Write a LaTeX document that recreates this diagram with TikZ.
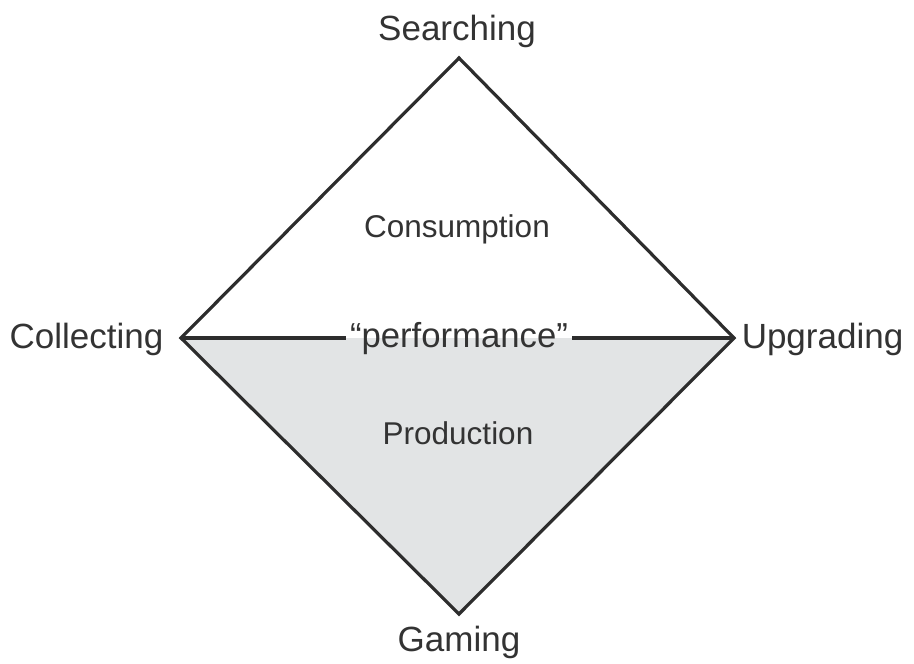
\documentclass[tikz,border=0pt]{standalone}
\usepackage{fontspec}
\setmainfont{Liberation Sans}
\definecolor{txt}{HTML}{333333}
\definecolor{edge}{HTML}{2D2D2D}
\definecolor{lowfill}{HTML}{E2E4E5}
\begin{document}
\begin{tikzpicture}[x=1pt,y=-1pt,
  outer/.style={text=txt,font=\fontsize{35}{40}\selectfont,anchor=base,inner sep=0pt},
  inner/.style={text=txt,font=\fontsize{31.5}{38}\selectfont,anchor=base,inner sep=0pt},
  perfstyle/.style={text=txt,font=\fontsize{34.7}{40}\selectfont,anchor=base,inner xsep=4pt,inner ysep=0pt},
  edgeline/.style={draw=edge,line width=3.2pt,line join=miter}]
\useasboundingbox (0,0) rectangle (914,664);
\coordinate (top) at (459,58);
\coordinate (left) at (181,338);
\coordinate (right) at (734,338);
\coordinate (bottom) at (459,614);
\fill[lowfill] (left) -- (right) -- (bottom) -- cycle;
\draw[edgeline] (left) -- (top) -- (right) -- (bottom) -- cycle;
\node[perfstyle] (perf) at (459,347) {“performance”};
\draw[edgeline] (left) -- (left -| perf.west);
\draw[edgeline] (right -| perf.east) -- (right);
\node[outer] (searching) at (457,40) {Searching};
\node[outer] (gaming) at (459,651) {Gaming};
\node[outer] (collecting) at (86.5,348) {Collecting};
\node[outer] (upgrading) at (822.5,348) {Upgrading};
\node[inner] (consumption) at (457,237) {Consumption};
\node[inner] (production) at (458,444) {Production};
\end{tikzpicture}
\end{document}
